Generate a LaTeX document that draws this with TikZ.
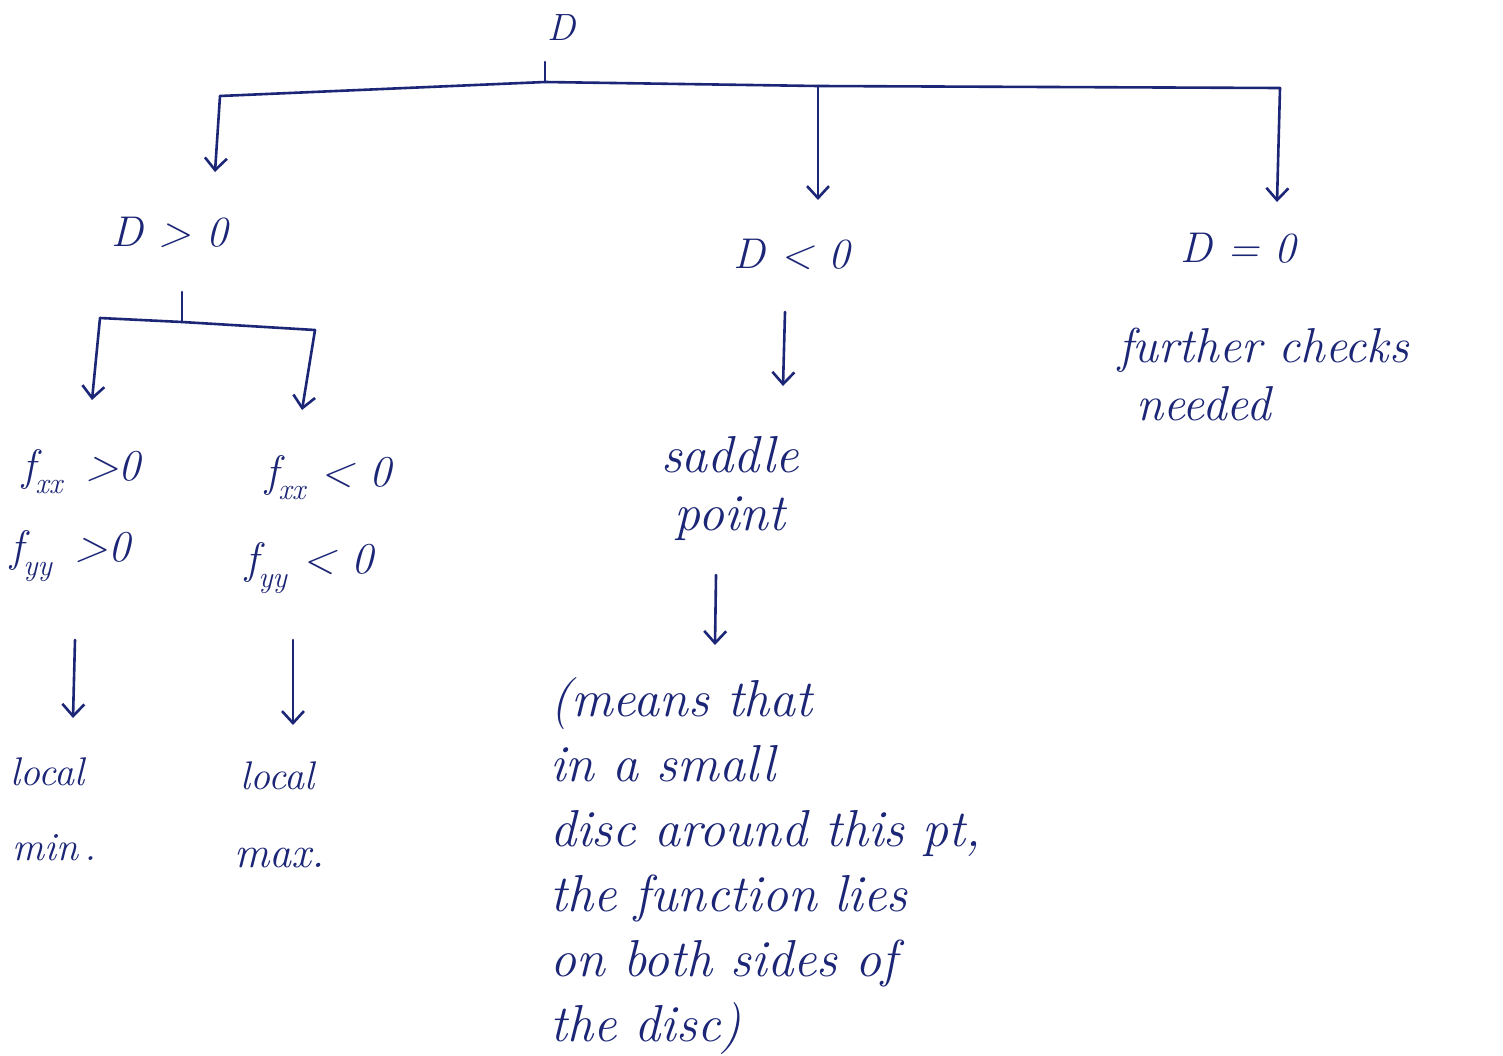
\documentclass[tikz,border=0pt]{standalone}
\usepackage{fontspec}
\usetikzlibrary{arrows.meta}
\definecolor{ink}{RGB}{28,38,118}
\newcommand{\lowsub}[1]{\raisebox{-0.3em}{\fontsize{30}{34}\selectfont #1}}
\begin{document}
\begin{tikzpicture}[x=1pt,y=-1pt,
  lbl/.style={text=ink,font=\fontsize{38}{46}\selectfont\itshape,inner sep=0pt},
  dl/.style={text=ink,font=\fontsize{43}{46}\selectfont\itshape,inner sep=0pt},
  big/.style={text=ink,font=\fontsize{52}{58}\selectfont\itshape,inner sep=0pt,align=center},
  fl/.style={text=ink,font=\fontsize{44}{50}\selectfont\itshape,inner sep=0pt,anchor=west},
  para/.style={text=ink,font=\fontsize{52}{65}\selectfont\itshape,inner sep=0pt,align=left,anchor=north west},
  wire/.style={draw=ink,line width=2.6pt,line cap=round,line join=round},
  arr/.style={wire,-{Straight Barb[length=12pt,width=22pt,line width=2.6pt]}}]
\useasboundingbox[fill=white] (0,0) rectangle (1503,1055);

% labels
\node[lbl] (D) at (562,28) {D};
\node[dl] (Dpos) at (170,232) {D > 0};
\node[dl] (Dneg) at (792,254) {D < 0};
\node[dl] (Dzero) at (1238,248) {D = 0};
\node[big,font=\fontsize{49}{58}\selectfont\itshape,align=left,anchor=north west] (further) at (1118,328) {further checks\\\hspace*{18pt}needed};
\node[fl] (fxxp) at (22,472) {f\lowsub{xx} \,>0};
\node[fl] (fyyp) at (10,556) {f\lowsub{yy} \,>0};
\node[fl] (fxxn) at (265,478) {f\lowsub{xx} < 0};
\node[fl] (fyyn) at (245,568) {f\lowsub{yy} < 0};
\node[fl,font=\fontsize{40}{46}\selectfont\itshape] (lmin) at (10,772) {local};
\node[fl,font=\fontsize{40}{46}\selectfont\itshape] (lmin2) at (12,848) {min\,.};
\node[fl,font=\fontsize{40}{46}\selectfont\itshape] (lmax) at (240,776) {local};
\node[fl,font=\fontsize{44}{46}\selectfont\itshape] (lmax2) at (234,858) {max.};
\node[big] (saddle) at (730,488) {saddle\\point};
\node[para] (means) at (550,677) {(means that\\in a small\\disc around this pt,\\the function lies\\on both sides of\\the disc)};

% top tree
\coordinate (s0) at (545,62);
\coordinate (jA) at (545,82);
\coordinate (jL) at (220,96);
\coordinate (jM) at (818,86);
\coordinate (jR) at (1280,88);
\coordinate (eL) at (215,172);
\coordinate (eM) at (818,200);
\coordinate (eR) at (1277,202);
\draw[wire] (s0) -- (jA);
\draw[wire] (jL) -- (jA) -- (jM) -- (jR);
\draw[arr] (jL) -- (eL);
\draw[arr] (jM) -- (eM);
\draw[arr] (jR) -- (eR);

% D>0 sub-tree
\coordinate (t0) at (182,292);
\coordinate (tJ) at (182,322);
\coordinate (tL) at (100,318);
\coordinate (tR) at (315,330);
\coordinate (tLe) at (92,400);
\coordinate (tRe) at (302,410);
\draw[wire] (t0) -- (tJ);
\draw[wire] (tL) -- (tJ) -- (tR);
\draw[arr] (tL) -- (tLe);
\draw[arr] (tR) -- (tRe);

% arrows to results
\coordinate (m1) at (75,640); \coordinate (m1e) at (73,718);
\coordinate (m2) at (293,640); \coordinate (m2e) at (293,725);
\draw[arr] (m1) -- (m1e);
\draw[arr] (m2) -- (m2e);

% saddle branch
\coordinate (n1) at (785,312); \coordinate (n1e) at (783,386);
\coordinate (n2) at (716,575); \coordinate (n2e) at (715,645);
\draw[arr] (n1) -- (n1e);
\draw[arr] (n2) -- (n2e);
\end{tikzpicture}
\end{document}
